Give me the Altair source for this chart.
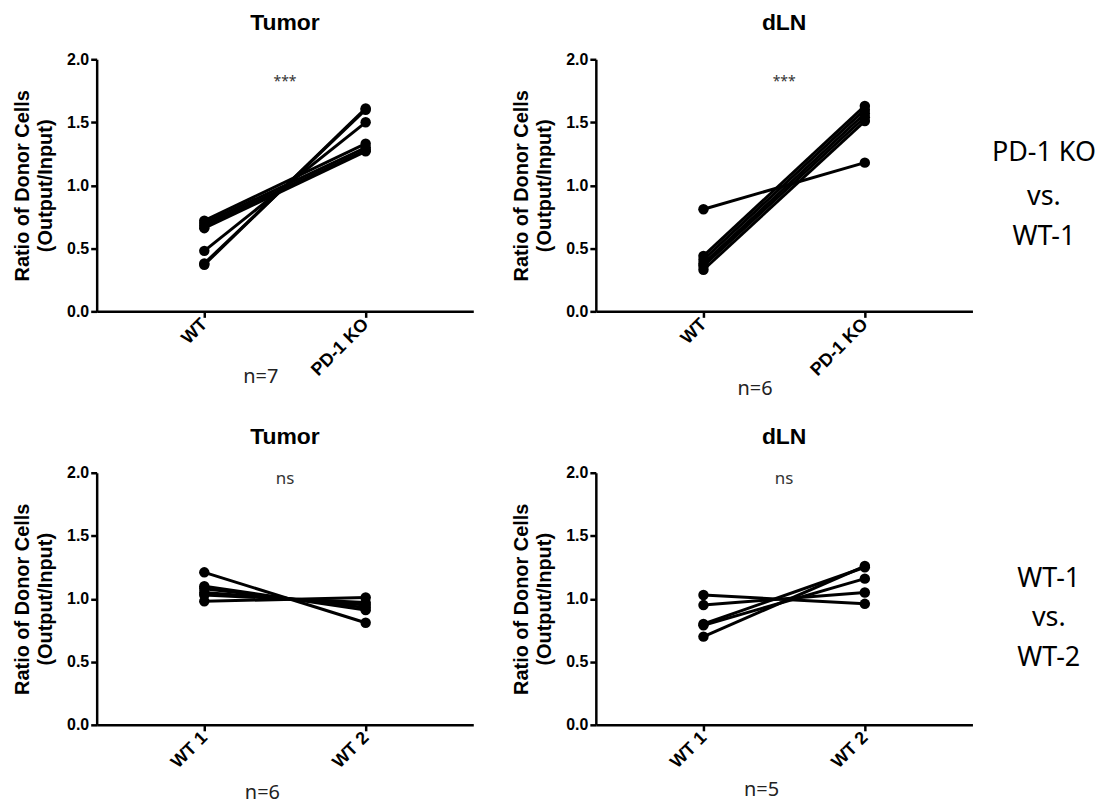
import altair as alt
import pandas as pd

# ---- data ----
tumor_ko_cats = ["WT", "PD-1 KO"]
tumor_ko_a = [0.37, 0.38, 0.48, 0.72, 0.70, 0.66, 0.68]
tumor_ko_b = [1.61, 1.60, 1.50, 1.33, 1.30, 1.27, 1.28]

dln_ko_cats = ["WT", "PD-1 KO"]
dln_ko_a = [0.81, 0.44, 0.41, 0.38, 0.36, 0.33]
dln_ko_b = [1.18, 1.63, 1.60, 1.57, 1.54, 1.51]

tumor_wt_cats = ["WT 1", "WT 2"]
tumor_wt_a = [1.21, 1.10, 1.08, 1.05, 0.98, 1.03]
tumor_wt_b = [0.81, 0.91, 0.93, 0.95, 1.01, 0.97]

dln_wt_cats = ["WT 1", "WT 2"]
dln_wt_a = [1.03, 0.95, 0.79, 0.70, 0.80]
dln_wt_b = [0.96, 1.05, 1.16, 1.26, 1.25]

titles = ["Tumor", "dLN", "Tumor", "dLN"]
sig_labels = ["***", "***", "ns", "ns"]
n_labels = ["n=7", "n=6", "n=6", "n=5"]
side_top = ["PD-1 KO", "vs.", "WT-1"]
side_bottom = ["WT-1", "vs.", "WT-2"]

ARIAL = "Liberation Sans"
CAL = "Noto Sans"
W, H = 378, 253


def panel(title, cats, a, b, sig, sig_y, sig_size, n_lab, n_x, n_y,
          side=None, side_x=None, side_ys=None):
    rows = []
    for i, (va, vb) in enumerate(zip(a, b)):
        rows.append({"id": i, "pos": 0, "v": va})
        rows.append({"id": i, "pos": 1, "v": vb})
    df = pd.DataFrame(rows)
    lab_expr = f"datum.value == 0 ? '{cats[0]}' : '{cats[1]}'"
    xs = alt.Scale(domain=[-0.667, 1.667], nice=False, zero=False)
    ys = alt.Scale(domain=[0, 2], nice=False)
    x = alt.X("pos:Q", scale=xs, title=None,
              axis=alt.Axis(values=[0, 1], labelExpr=lab_expr, labelAngle=-45,
                            labelAlign="right", labelBaseline="middle",
                            labelPadding=4, labelFontSize=18))
    y = alt.Y("v:Q", scale=ys,
              title=["Ratio of Donor Cells", "(Output/Input)"],
              axis=alt.Axis(values=[0, 0.5, 1.0, 1.5, 2.0], format=".1f",
                            titleFontSize=20, titleFont=ARIAL,
                            titleFontWeight="bold", titlePadding=11,
                            titleLineHeight=23))
    lines = alt.Chart(df).mark_line(color="black", strokeWidth=3).encode(
        x=x, y=y, detail="id:N")
    pts = alt.Chart(df).mark_circle(color="black", size=110, opacity=1).encode(
        x="pos:Q", y="v:Q")
    sig_df = pd.DataFrame({"x": [0.5], "y": [sig_y], "t": [sig]})
    sig_t = alt.Chart(sig_df).mark_text(font=CAL, fontSize=sig_size,
                                        color="#333333", baseline="middle").encode(
        x="x:Q", y="y:Q", text="t:N")
    n_df = pd.DataFrame({"x": [n_x], "y": [n_y], "t": [n_lab]})
    n_t = alt.Chart(n_df).mark_text(font=CAL, fontSize=20, color="#222222",
                                    baseline="middle").encode(
        x="x:Q", y="y:Q", text="t:N")
    layers = [lines, pts, sig_t, n_t]
    if side is not None:
        s_df = pd.DataFrame({"x": [side_x] * len(side), "y": side_ys, "t": side})
        s_t = alt.Chart(s_df).mark_text(font=CAL, fontSize=27, color="black",
                                        baseline="middle").encode(
            x="x:Q", y="y:Q", text="t:N")
        layers.append(s_t)
    return alt.layer(*layers).properties(
        width=W, height=H,
        title=alt.TitleParams(title, fontSize=23, font=ARIAL, fontWeight="bold",
                              anchor="middle", frame="group", offset=16))


p1 = panel(titles[0], tumor_ko_cats, tumor_ko_a, tumor_ko_b, sig_labels[0], 1.82, 14,
           n_labels[0], 0.35, -0.52)
p2 = panel(titles[1], dln_ko_cats, dln_ko_a, dln_ko_b, sig_labels[1], 1.82, 14,
           n_labels[1], 0.32, -0.62, side_top, 2.11, [1.26, 0.91, 0.59])
p3 = panel(titles[2], tumor_wt_cats, tumor_wt_a, tumor_wt_b, sig_labels[2], 1.95, 17,
           n_labels[2], 0.36, -0.54)
p4 = panel(titles[3], dln_wt_cats, dln_wt_a, dln_wt_b, sig_labels[3], 1.95, 17,
           n_labels[3], 0.36, -0.52, side_bottom, 2.14, [1.16, 0.85, 0.53])

row1 = alt.hconcat(p1, p2, spacing=38)
row2 = alt.hconcat(p3, p4, spacing=38)
chart = alt.vconcat(row1, row2, spacing=26).properties(
    padding={"left": 4, "top": 3, "right": 0, "bottom": 0}
).configure_view(stroke=None).configure_axis(
    grid=False, domainColor="black", domainWidth=2.5, tickColor="black",
    tickWidth=2.5, tickSize=6, labelFont=ARIAL, labelFontWeight="bold",
    labelFontSize=16, labelColor="black", titleColor="black"
)

chart.save("out.html", embed_options={"renderer": "svg", "actions": False})
